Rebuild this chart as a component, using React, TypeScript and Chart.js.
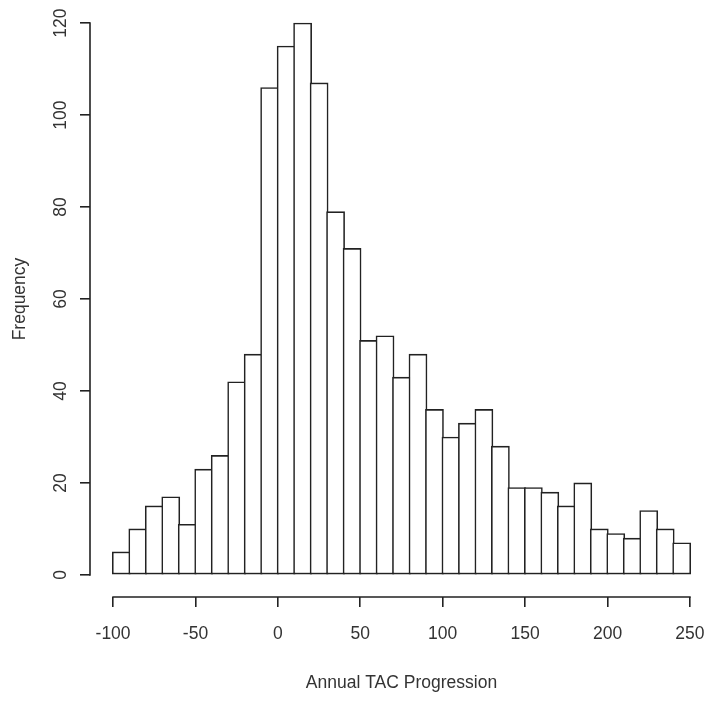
import { useEffect, useRef } from 'react';
import { Chart, registerables } from 'chart.js';

Chart.register(...registerables);

// ---- data ----
const binStarts = [
  -100, -90, -80, -70, -60, -50, -40, -30, -20, -10,
  0, 10, 20, 30, 40, 50, 60, 70, 80, 90,
  100, 110, 120, 130, 140, 150, 160, 170, 180, 190,
  200, 210, 220, 230, 240,
];
const frequencies = [
  5, 10, 15, 17, 11, 23, 26, 42, 48, 106,
  115, 120, 107, 79, 71, 51, 52, 43, 48, 36,
  30, 33, 36, 28, 19, 19, 18, 15, 20, 10,
  9, 8, 14, 10, 7,
];
const binWidth = 10;
const xTickValues = [-100, -50, 0, 50, 100, 150, 200, 250];
const yTickValues = [0, 20, 40, 60, 80, 100, 120];
const xTitle = 'Annual TAC Progression';
const yTitle = 'Frequency';

// ---- style / layout ----
const W = 714;
const H = 703;
const LINE = '#222';
const TEXT = '#333';
const LW = 1.6;
const FAMILY = '"Liberation Sans", Arial, Helvetica, sans-serif';
const FS = 17.5;
const Y_SCALE_W = 90;
const X_SCALE_H = 106;
const PAD_TOP = 1;
const PAD_RIGHT = 1;

// R-style 4% axis extension
const xSpan = xTickValues[xTickValues.length - 1] - xTickValues[0];
const X_MIN = xTickValues[0] - 0.04 * xSpan;
const X_MAX = xTickValues[xTickValues.length - 1] + 0.04 * xSpan;
const ySpan = yTickValues[yTickValues.length - 1] - yTickValues[0];
const Y_MIN = yTickValues[0] - 0.04 * ySpan;
const Y_MAX = yTickValues[yTickValues.length - 1] + 0.04 * ySpan;

const plotW = W - Y_SCALE_W - PAD_RIGHT;
const binPx = (plotW * binWidth) / (X_MAX - X_MIN);

const rAxesPlugin = {
  id: 'rAxes',
  afterDraw(chart: any) {
    const { ctx, chartArea, scales } = chart;
    const x = scales.x;
    const y = scales.y;
    ctx.save();
    ctx.strokeStyle = LINE;
    ctx.lineWidth = LW;
    ctx.lineCap = 'square';
    ctx.beginPath();
    ctx.moveTo(x.getPixelForValue(xTickValues[0]), chartArea.bottom);
    ctx.lineTo(x.getPixelForValue(xTickValues[xTickValues.length - 1]), chartArea.bottom);
    ctx.moveTo(chartArea.left, y.getPixelForValue(yTickValues[0]));
    ctx.lineTo(chartArea.left, y.getPixelForValue(yTickValues[yTickValues.length - 1]));
    ctx.stroke();

    ctx.fillStyle = TEXT;
    ctx.font = `${FS}px ${FAMILY}`;
    ctx.textAlign = 'center';
    ctx.textBaseline = 'middle';
    y.ticks.forEach((t: any) => {
      const py = y.getPixelForValue(t.value);
      ctx.save();
      ctx.translate(chartArea.left - 29, py);
      ctx.rotate(-Math.PI / 2);
      ctx.fillText(String(t.value), 0, 0);
      ctx.restore();
    });
    ctx.restore();
  },
};

export default function App() {
  const canvasRef = useRef<HTMLCanvasElement | null>(null);

  useEffect(() => {
    const canvas = canvasRef.current;
    if (!canvas) return;
    const chart = new Chart(canvas, {
      type: 'bar',
      data: {
        datasets: [
          {
            label: yTitle,
            data: binStarts.map((b, i) => ({ x: b + binWidth / 2, y: frequencies[i] })),
            backgroundColor: '#ffffff',
            borderColor: LINE,
            borderWidth: LW,
            borderSkipped: false,
            barThickness: binPx + LW,
          },
        ],
      },
      options: {
        animation: false,
        responsive: false,
        devicePixelRatio: 1,
        events: [],
        layout: { padding: { top: PAD_TOP, right: PAD_RIGHT, left: 0, bottom: 0 } },
        plugins: {
          legend: { display: false },
          tooltip: { enabled: false },
          title: { display: false },
        },
        scales: {
          x: {
            type: 'linear',
            min: X_MIN,
            max: X_MAX,
            offset: false,
            afterBuildTicks: (scale: any) => {
              scale.ticks = xTickValues.map((v) => ({ value: v }));
            },
            afterFit: (scale: any) => {
              scale.height = X_SCALE_H;
              scale.paddingLeft = 0;
              scale.paddingRight = 0;
            },
            border: { display: false },
            grid: {
              display: true,
              offset: false,
              drawOnChartArea: false,
              drawTicks: true,
              tickLength: 10,
              color: LINE,
              lineWidth: LW,
            },
            ticks: {
              color: TEXT,
              font: { family: FAMILY, size: FS, lineHeight: 1.2 },
              padding: 17,
              maxRotation: 0,
              minRotation: 0,
              autoSkip: false,
              callback: (v: any) => String(v),
            },
            title: {
              display: true,
              text: xTitle,
              color: TEXT,
              font: { family: FAMILY, size: FS, lineHeight: 1.2 },
              padding: { top: 0, bottom: 9.5 },
            },
          },
          y: {
            type: 'linear',
            min: Y_MIN,
            max: Y_MAX,
            afterBuildTicks: (scale: any) => {
              scale.ticks = yTickValues.map((v) => ({ value: v }));
            },
            afterFit: (scale: any) => {
              scale.width = Y_SCALE_W;
              scale.paddingTop = 0;
              scale.paddingBottom = 0;
            },
            border: { display: false },
            grid: {
              display: true,
              drawOnChartArea: false,
              drawTicks: true,
              tickLength: 10,
              color: LINE,
              lineWidth: LW,
            },
            ticks: { display: false },
            title: {
              display: true,
              text: yTitle,
              color: TEXT,
              font: { family: FAMILY, size: FS, lineHeight: 1.2 },
              padding: { top: 9.5, bottom: 0 },
            },
          },
        },
      },
      plugins: [rAxesPlugin],
    } as any);
    return () => chart.destroy();
  }, []);

  return (
    <div style={{ position: 'absolute', left: 0, top: 0, width: W, height: H, background: '#fff' }}>
      <canvas ref={canvasRef} width={W} height={H} style={{ display: 'block', width: W, height: H }} />
    </div>
  );
}
